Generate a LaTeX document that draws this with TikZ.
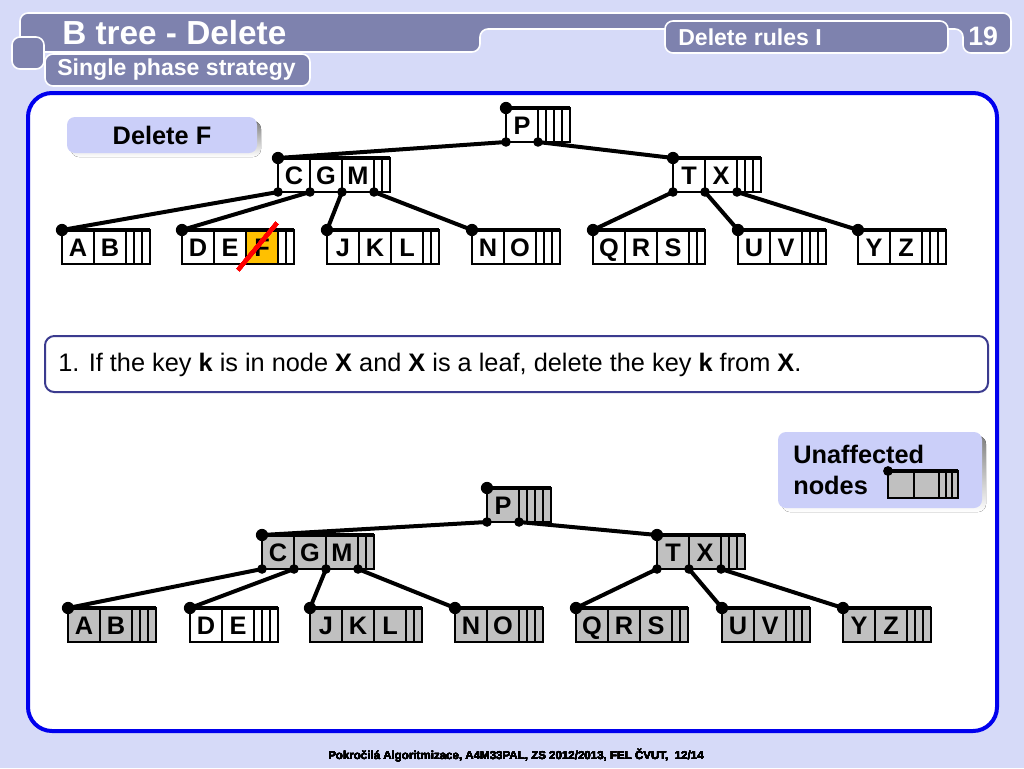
\documentclass[tikz,border=0pt]{standalone}
\usepackage{fontspec}
\setmainfont{Liberation Sans}
\setsansfont{Liberation Sans}
\usepackage{xcolor}
\usepackage{tikz}
\definecolor{bg}{HTML}{D6DAF8}
\definecolor{bar}{HTML}{7E82AE}
\definecolor{frame}{HTML}{0000EE}
\definecolor{lav}{HTML}{CBCFF9}
\definecolor{rulec}{HTML}{3B3B8F}
\definecolor{gold}{HTML}{FFC000}
\definecolor{grey}{HTML}{C0C0C0}
\definecolor{shade}{HTML}{9A9AB2}
\tikzset{
  tab/.style={fill=bar, draw=white, line width=1.2pt, rounded corners=6pt},
  head/.style={text=white, font=\bfseries\fontsize{25}{25}\selectfont, anchor=west, inner sep=0pt},
  subhead/.style={text=white, font=\bfseries\fontsize{17.3}{17.3}\selectfont, anchor=west, inner sep=0pt},
  panel/.style={fill=white, draw=frame, line width=3pt, rounded corners=18pt},
  box/.style={fill=lav, rounded corners=6pt},
  lbl/.style={font=\bfseries\fontsize{19}{23}\selectfont, inner sep=0pt},
  rulebox/.style={fill=white, draw=rulec, line width=1.5pt, rounded corners=7pt},
  cell/.style={draw=black, line width=1.5pt},
  topline/.style={line width=3.4pt},
  link/.style={line width=3pt},
  key/.style={font=\bfseries\fontsize{19}{19}\selectfont, inner sep=0pt, text height=13.6pt, text depth=0pt},
  strike/.style={draw=red, line width=3pt}
}
% one B-tree node: [fill] name, top left corner, keys
\newcommand{\btnode}[4][white]{%
  \begin{scope}[shift={#3}]
    \foreach \k [count=\i] in {#4} {
      \draw[cell, fill=#1] ({(\i-1)*32},0) rectangle ++(32,34);
      \node[key] (#2-k\i) at ({(\i-0.5)*32},17.5) {\k};
      \coordinate (#2-\i) at (\i*32,34);
      \xdef\nk{\i}
    }
    \foreach \j in {\nk,...,4}
      \draw[cell, fill=#1] ({\nk*32+(\j-\nk)*8},0) rectangle ++(8,34);
    \pgfmathtruncatemacro\nw{\nk*32+(5-\nk)*8}
    \coordinate (#2) at (0,0);
    \coordinate (#2-0) at (0,34);
    \draw[topline] (0,0) -- (\nw,0);
    \fill (0,0) circle (4.6pt);
  \end{scope}
}
\newcommand{\lnk}[2]{\draw[link] (#1) -- (#2); \fill (#1) circle (3.6pt);}

\begin{document}
\begin{tikzpicture}[x=0.75pt,y=-0.75pt]
\useasboundingbox (0,0) rectangle (1024,768);
\fill[bg] (0,0) rectangle (1024,768);
% header
\draw[tab] (20,52) -- (20,13) -- (1011,13) -- (1011,53) -- (963,53) -- (963,29) -- (480,29) -- (480,52) -- cycle;
\draw[tab] (12,37) rectangle (44,69);
\draw[tab] (665,21) rectangle (948,53);
\draw[tab] (45,54) rectangle (310,86);
\node[head] (title) at (62,33) {B tree - Delete};
\node[subhead] (sub) at (57,70) {Single phase strategy};
\node[subhead] (rules) at (678,37) {Delete rules I};
\node[head, font=\bfseries\fontsize{20}{20}\selectfont] (num) at (968,36) {19};
% panel
\draw[panel] (28,93) rectangle (997,731);
\fill[shade, rounded corners=6pt] (71,121) rectangle (261,157);
\fill[box] (67,117) rectangle (257,153);
\node[lbl] (del) at (162,135) {Delete F};
\draw[rulebox] (45,336) rectangle (988,392);
\node[anchor=west, inner sep=0pt, font=\fontsize{19}{19}\selectfont] (rule) at (58,365)
  {1. If the key \textbf{k} is in node \textbf{X} and \textbf{X} is a leaf, delete the key \textbf{k} from \textbf{X}.};
% legend
\fill[shade, rounded corners=6pt] (782,436) rectangle (986,512);
\fill[box] (778,432) rectangle (982,508);
\node[lbl, anchor=west, align=left] (leg) at (793,470) {Unaffected\\nodes};
\begin{scope}[shift={(888,471)}, scale=0.8]
  \btnode[grey]{lg}{(0,0)}{{},{}}
\end{scope}
% tree before
\fill[gold] (246,230) rectangle (278,264);
\btnode{p}{(506,108)}{P}
\btnode{cgm}{(278,158)}{C,G,M}
\btnode{tx}{(673,158)}{T,X}
\btnode{ab}{(62,230)}{A,B}
\btnode[none]{def}{(182,230)}{D,E,F}
\btnode{jkl}{(327,230)}{J,K,L}
\btnode{no}{(472,230)}{N,O}
\btnode{qrs}{(593,230)}{Q,R,S}
\btnode{uv}{(738,230)}{U,V}
\btnode{yz}{(858,230)}{Y,Z}
\foreach \a/\b in {p-0/cgm, p-1/tx, cgm-0/ab, cgm-1/def, cgm-2/jkl, cgm-3/no, tx-0/qrs, tx-1/uv, tx-2/yz}
  \lnk{\a}{\b}
\draw[strike] (238,270) -- (277,223);
% tree after
\btnode[grey]{p2}{(487,488)}{P}
\btnode[grey]{cgm2}{(262,535)}{C,G,M}
\btnode[grey]{tx2}{(657,535)}{T,X}
\btnode[grey]{ab2}{(68,608)}{A,B}
\btnode{de2}{(190,608)}{D,E}
\btnode[grey]{jkl2}{(310,608)}{J,K,L}
\btnode[grey]{no2}{(455,608)}{N,O}
\btnode[grey]{qrs2}{(576,608)}{Q,R,S}
\btnode[grey]{uv2}{(722,608)}{U,V}
\btnode[grey]{yz2}{(843,608)}{Y,Z}
\foreach \a/\b in {p2-0/cgm2, p2-1/tx2, cgm2-0/ab2, cgm2-1/de2, cgm2-2/jkl2, cgm2-3/no2, tx2-0/qrs2, tx2-1/uv2, tx2-2/yz2}
  \lnk{\a}{\b}
% footer
\node[font=\bfseries\fontsize{8.65}{8.65}\selectfont, inner sep=0pt] (foot) at (516,756)
  {Pokročilá Algoritmizace, A4M33PAL, ZS 2012/2013, FEL ČVUT,\ \ 12/14};
\end{tikzpicture}
\end{document}
